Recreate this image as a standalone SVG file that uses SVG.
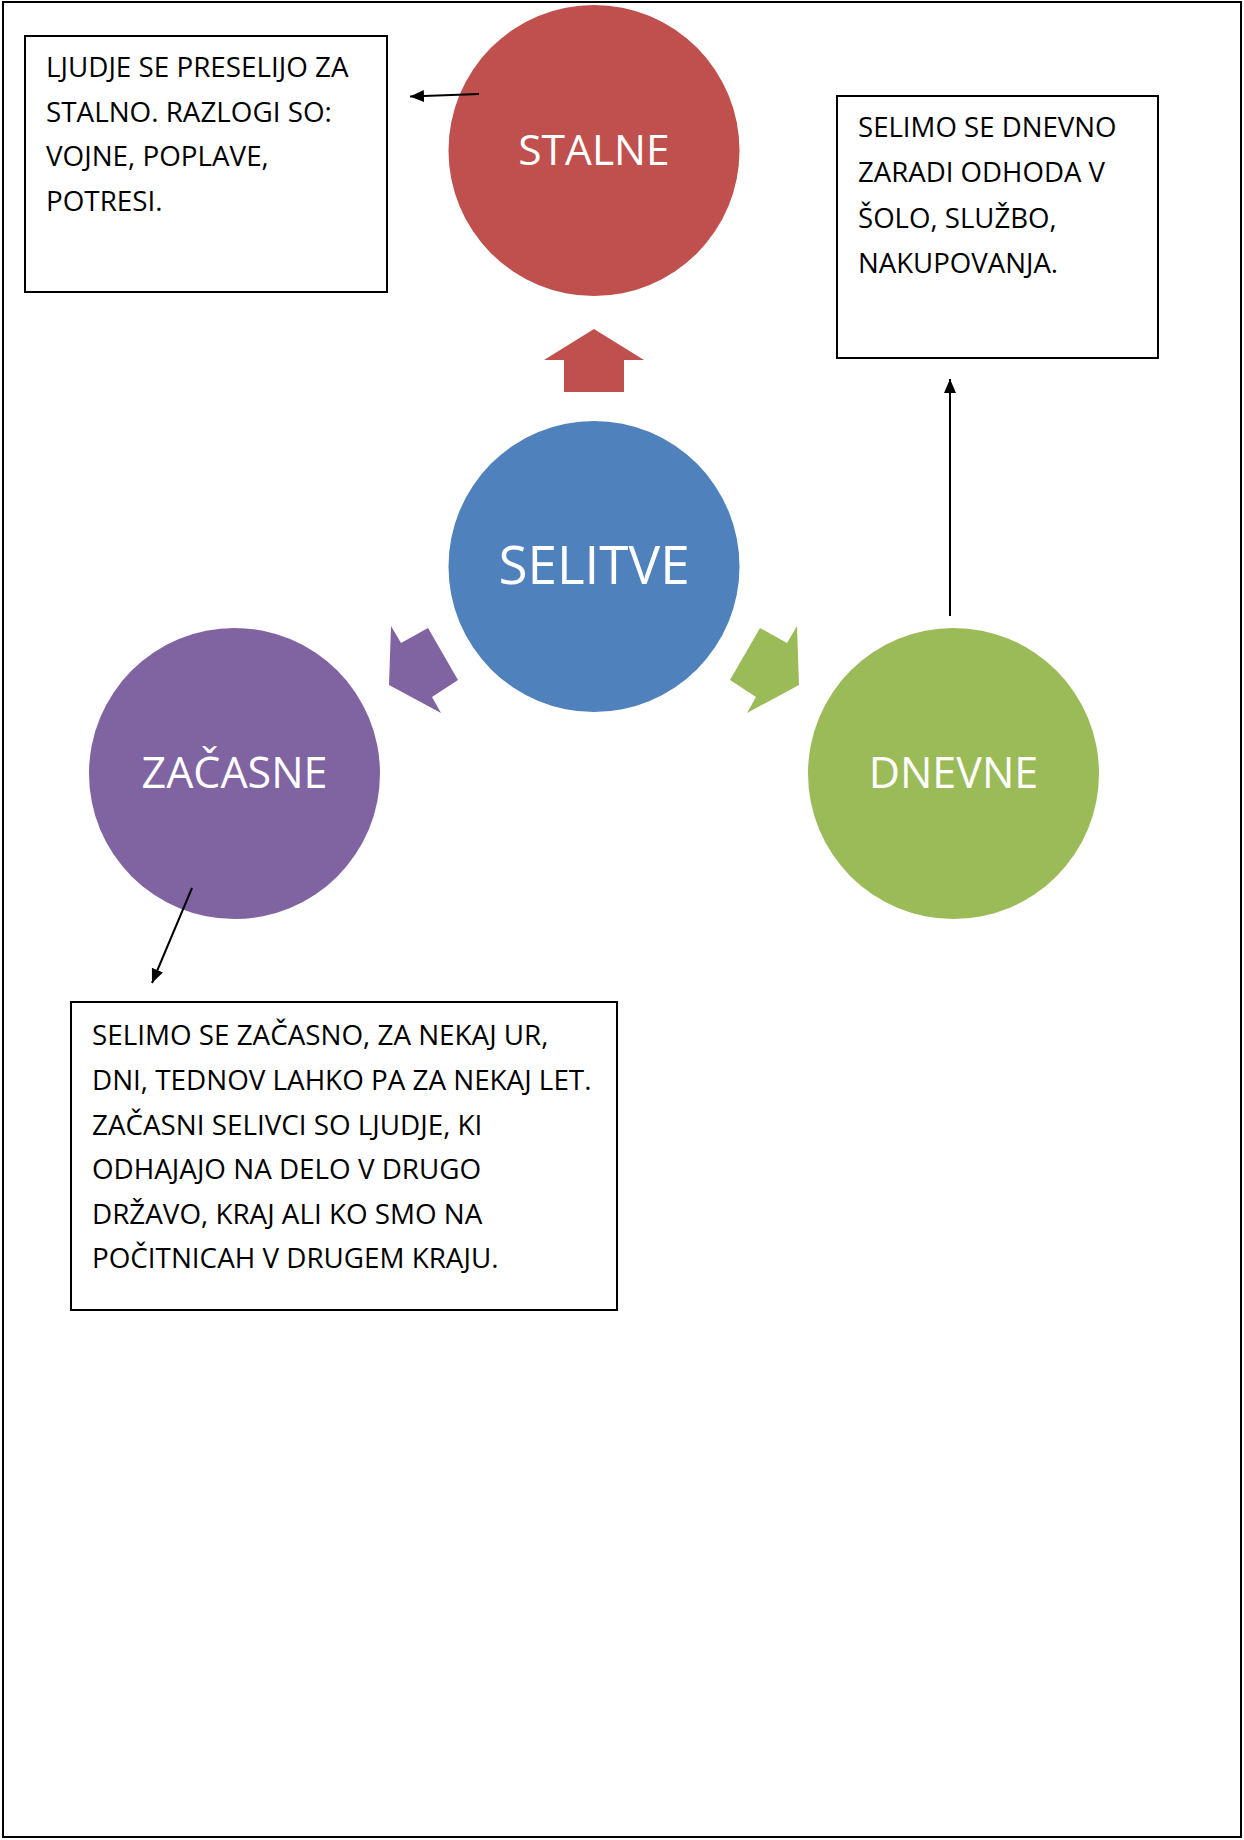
<svg xmlns="http://www.w3.org/2000/svg" width="1244" height="1840" viewBox="0 0 1244 1840">
  <defs>
    <style>
      .page { fill: #ffffff; stroke: #000000; stroke-width: 2; }
      .box { fill: #ffffff; stroke: #000000; stroke-width: 2; }
      .txt { font-family: "Open Sans", "Liberation Sans", sans-serif; fill: #000000; }
      .lbl { font-family: "Open Sans", "Liberation Sans", sans-serif; fill: #ffffff; text-anchor: middle; }
      .conn { fill: none; stroke: #000000; stroke-width: 2; }
    </style>
    <marker id="ah" markerUnits="userSpaceOnUse" markerWidth="16" markerHeight="14" refX="14" refY="6" orient="auto">
      <path d="M0,0 L14,6 L0,12 z" fill="#000000"/>
    </marker>
  </defs>

  <rect class="page" x="3" y="2" width="1238" height="1835"/>

  <g id="node-stalne">
    <circle cx="594" cy="150.5" r="145.5" fill="#C0504D"/>
    <text class="lbl" x="594" y="165" font-size="42.5">STALNE</text>
  </g>

  <g id="node-selitve">
    <circle cx="594" cy="566.5" r="145.5" fill="#4F81BD"/>
    <text class="lbl" x="594" y="584" font-size="53">SELITVE</text>
  </g>

  <g id="node-zacasne">
    <circle cx="234.5" cy="773.5" r="145.5" fill="#8064A2"/>
    <text class="lbl" x="234.5" y="788" font-size="43">ZAČASNE</text>
  </g>

  <g id="node-dnevne">
    <circle cx="953.5" cy="773.5" r="145.5" fill="#9BBB59"/>
    <text class="lbl" x="953.5" y="788" font-size="43">DNEVNE</text>
  </g>

  <g id="box-stalne">
    <rect class="box" x="25" y="36" width="362" height="256"/>
    <text class="txt" font-size="27.8">
      <tspan x="46" y="77">LJUDJE SE PRESELIJO ZA</tspan>
      <tspan x="46" y="121.7">STALNO. RAZLOGI SO:</tspan>
      <tspan x="46" y="166.4">VOJNE, POPLAVE,</tspan>
      <tspan x="46" y="211">POTRESI.</tspan>
    </text>
  </g>

  <g id="box-dnevne">
    <rect class="box" x="837" y="96" width="321" height="262"/>
    <text class="txt" font-size="27.6">
      <tspan x="858" y="137">SELIMO SE DNEVNO</tspan>
      <tspan x="858" y="182">ZARADI ODHODA V</tspan>
      <tspan x="858" y="228">ŠOLO, SLUŽBO,</tspan>
      <tspan x="858" y="273">NAKUPOVANJA.</tspan>
    </text>
  </g>

  <g id="box-zacasne">
    <rect class="box" x="71" y="1002" width="546" height="308"/>
    <text class="txt" font-size="27.8">
      <tspan x="92" y="1045">SELIMO SE ZAČASNO, ZA NEKAJ UR,</tspan>
      <tspan x="92" y="1090">DNI, TEDNOV LAHKO PA ZA NEKAJ LET.</tspan>
      <tspan x="92" y="1134.5">ZAČASNI SELIVCI SO LJUDJE, KI</tspan>
      <tspan x="92" y="1179">ODHAJAJO NA DELO V DRUGO</tspan>
      <tspan x="92" y="1223.5">DRŽAVO, KRAJ ALI KO SMO NA</tspan>
      <tspan x="92" y="1268">POČITNICAH V DRUGEM KRAJU.</tspan>
    </text>
  </g>

  <g id="connectors">
    <polygon id="arrow-stalne" points="594,329 644,360 624,360 624,392 564,392 564,360 544,360" fill="#C0504D"/>
    <polygon id="arrow-zacasne" points="389,685 391,626 401,643 428,628 458,680 432,697 441,713" fill="#8064A2"/>
    <polygon id="arrow-dnevne" points="799,685 797,626 787,643 760,628 730,680 756,697 747,713" fill="#9BBB59"/>
    <line class="conn" x1="479" y1="94" x2="410" y2="96.5" marker-end="url(#ah)"/>
    <line class="conn" x1="950" y1="616" x2="950" y2="379" marker-end="url(#ah)"/>
    <line class="conn" x1="192" y1="888" x2="152" y2="983" marker-end="url(#ah)"/>
  </g>
</svg>
